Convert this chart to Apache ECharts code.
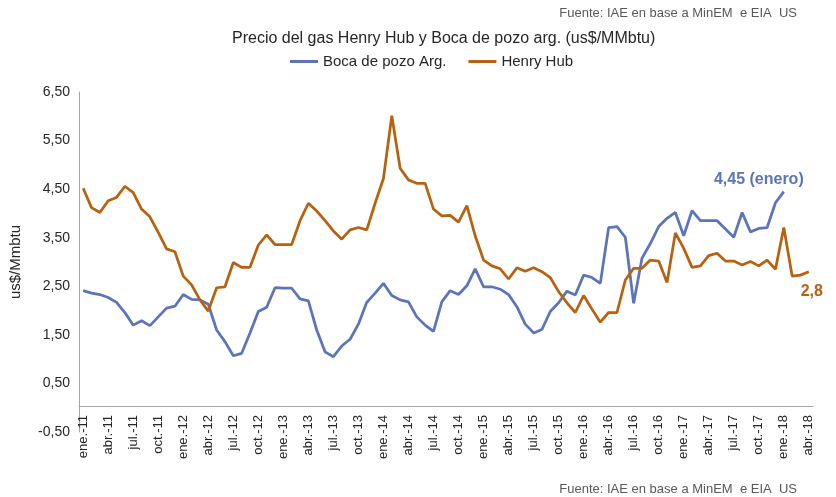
<!DOCTYPE html>
<html lang="es">

<head>
    <meta charset="UTF-8">
    <title>Precio del gas Henry Hub y Boca de pozo</title>
    <script src="https://cdn.jsdelivr.net/npm/echarts@6/dist/echarts.min.js"></script>
</head>
<style>
    html,
    body {
        margin: 0;
        width: 100%;
        height: 100%;
        background: #ffffff;
    }

    #main {
        width: 836px;
        height: 497px;
    }
</style>

<body>
    <div id="main"></div>
    <script>
        // etiquetas del eje x: ene.-11 ... abr.-18
        var meses = ['ene.', 'feb.', 'mar.', 'abr.', 'may.', 'jun.', 'jul.', 'ago.', 'sep.', 'oct.', 'nov.', 'dic.'];
        var anios = ['11', '12', '13', '14', '15', '16', '17', '18'];
        var categorias = [];
        anios.forEach(function (a) {
            meses.forEach(function (m) {
                categorias.push(m + '-' + a);
            });
        });
        categorias = categorias.slice(0, categorias.indexOf('abr.-18') + 1);

        // us$/MMbtu, mensual
        var bocaDePozo = [
            2.41, 2.36, 2.33, 2.27, 2.17, 1.96, 1.70, 1.79, 1.69, 1.87,
            2.05, 2.09, 2.33, 2.23, 2.22, 2.13, 1.60, 1.36, 1.07, 1.12,
            1.54, 1.98, 2.07, 2.47, 2.46, 2.46, 2.24, 2.20, 1.60, 1.15,
            1.05, 1.27, 1.41, 1.72, 2.17, 2.36, 2.56, 2.31, 2.22, 2.18,
            1.87, 1.70, 1.57, 2.18, 2.41, 2.33, 2.51, 2.86, 2.49, 2.49,
            2.44, 2.33, 2.08, 1.72, 1.54, 1.61, 1.98, 2.16, 2.40, 2.32,
            2.73, 2.68, 2.56, 3.71, 3.73, 3.51, 2.15, 3.08, 3.38, 3.73,
            3.90, 4.02, 3.54, 4.06, 3.85, 3.85, 3.85, 3.68, 3.51, 4.02,
            3.62, 3.69, 3.71, 4.22, 4.45, null, null, null
        ];
        var henryHub = [
            4.52, 4.12, 4.02, 4.26, 4.33, 4.56, 4.43, 4.09, 3.93, 3.61,
            3.27, 3.21, 2.71, 2.53, 2.22, 1.99, 2.47, 2.49, 2.99, 2.89,
            2.89, 3.35, 3.56, 3.36, 3.36, 3.36, 3.85, 4.21, 4.05, 3.85,
            3.64, 3.47, 3.66, 3.71, 3.66, 4.21, 4.72, 6.01, 4.93, 4.69,
            4.62, 4.62, 4.09, 3.95, 3.96, 3.82, 4.16, 3.54, 3.04, 2.92,
            2.86, 2.65, 2.88, 2.81, 2.88, 2.80, 2.68, 2.39, 2.16, 1.96,
            2.31, 2.03, 1.76, 1.96, 1.96, 2.63, 2.87, 2.87, 3.04, 3.02,
            2.58, 3.60, 3.28, 2.89, 2.92, 3.13, 3.18, 3.02, 3.02, 2.94,
            3.01, 2.92, 3.04, 2.85, 3.71, 2.71, 2.73, 2.80
        ];

        var azul = '#5b74ba';
        var naranja = '#b8620f';

        // etiqueta en el ultimo dato de cada serie
        function conEtiqueta(valores, texto, lbl) {
            var ultimo = -1;
            valores.forEach(function (v, i) { if (v != null) ultimo = i });
            return valores.map(function (v, i) {
                if (i !== ultimo) return v;
                return {
                    value: v,
                    symbol: 'circle',
                    symbolSize: 2,
                    itemStyle: { color: 'rgba(0,0,0,0)' },
                    label: Object.assign({ show: true, formatter: texto, fontSize: 16, fontWeight: 'bold', fontFamily: 'Liberation Sans' }, lbl)
                };
            });
        }

        var option = {
            backgroundColor: '#ffffff',
            animation: false,
            textStyle: { fontFamily: 'Liberation Sans' },
            title: [{
                text: 'Precio del gas Henry Hub y Boca de pozo arg. (us$/MMbtu)',
                left: 232,
                top: 31,
                padding: 0,
                textStyle: { fontSize: 16, fontWeight: 'normal', color: '#262626' }
            }, {
                text: 'Fuente: IAE en base a MinEM  e EIA  US',
                right: 39,
                top: 7,
                padding: 0,
                textStyle: { fontSize: 13, fontWeight: 'normal', color: '#595959' }
            }, {
                text: 'Fuente: IAE en base a MinEM  e EIA  US',
                right: 39,
                top: 483,
                padding: 0,
                textStyle: { fontSize: 13, fontWeight: 'normal', color: '#595959' }
            }],
            legend: {
                left: 290,
                top: 54,
                padding: 0,
                icon: 'rect',
                itemWidth: 28,
                itemHeight: 3,
                itemGap: 22,
                textStyle: { fontSize: 15, color: '#262626' },
                data: ['Boca de pozo Arg.', 'Henry Hub']
            },
            grid: { left: 78, right: 23, top: 92, bottom: 65 },
            xAxis: {
                type: 'category',
                data: categorias,
                offset: -26,
                axisLine: { onZero: false, lineStyle: { color: '#a6a6a6' } },
                axisTick: { show: false },
                axisLabel: { interval: 2, rotate: 90, margin: 9, fontSize: 13, color: '#262626' }
            },
            yAxis: {
                type: 'value',
                min: -0.5,
                max: 6.5,
                interval: 0.5,
                name: 'us$/Mmbtu',
                nameLocation: 'middle',
                nameGap: 56,
                nameTextStyle: { fontSize: 15, color: '#262626' },
                splitLine: { show: false },
                axisTick: { show: false },
                axisLine: { show: true, lineStyle: { color: '#a6a6a6' } },
                axisLabel: {
                    margin: 9,
                    fontSize: 14,
                    color: '#262626',
                    formatter: function (v) {
                        if (Math.round(v * 2) % 2 === 0) return '';
                        return v.toFixed(2).replace('.', ',');
                    }
                }
            },
            series: [{
                name: 'Boca de pozo Arg.',
                type: 'line',
                symbol: 'none',
                color: azul,
                lineStyle: { width: 2.75, color: azul },
                data: conEtiqueta(bocaDePozo, '4,45 (enero)', { position: 'top', distance: 3, offset: [-25, 0], color: azul })
            }, {
                name: 'Henry Hub',
                type: 'line',
                symbol: 'none',
                color: naranja,
                lineStyle: { width: 2.75, color: naranja },
                data: conEtiqueta(henryHub, '2,8', { position: 'bottom', distance: 11, offset: [3, 0], color: naranja })
            }]
        };

        var myChart = echarts.init(document.getElementById('main'));
        myChart.setOption(option);
    </script>
</body>

</html>
